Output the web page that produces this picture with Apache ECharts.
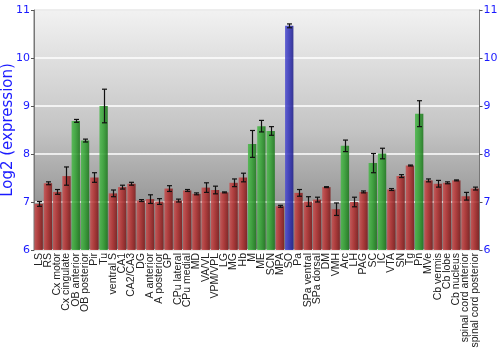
<!DOCTYPE html>
<html><head><meta charset="utf-8">
<script src="https://cdn.jsdelivr.net/npm/echarts@6/dist/echarts.min.js"></script>
<style>html,body{margin:0;padding:0;background:#fff}#c{width:500px;height:350px}</style>
</head><body><div id="c"></div>
<script>
var categories = ["LS","RS","Cx motor","Cx cingulate","OB anterior","OB posterior","Pir","Tu","ventral S","CA1","CA2/CA3","DG","A anterior","A posterior","GP","CPu lateral","CPu medial","MD","VA/VL","VPM/VPL","LG","MG","Hb","M","ME","SCN","MPA","SO","Pa","SPa ventral","SPa dorsal","DM","VMH","Arc","LH","PAG","SC","IC","VTA","SN","Tg","Pn","MVe","Cb vermis","Cb lobe","Cb nucleus","spinal cord anterior","spinal cord posterior"];
var values = [6.96,7.39,7.21,7.54,8.69,8.28,7.51,9.0,7.18,7.31,7.38,7.03,7.06,7.01,7.28,7.03,7.24,7.17,7.30,7.25,7.20,7.40,7.51,8.21,8.58,8.48,6.91,10.67,7.19,7.01,7.05,7.31,6.85,8.17,7.0,7.21,7.81,8.01,7.26,7.54,7.76,8.84,7.45,7.38,7.40,7.45,7.12,7.28];
var errors = [0.05,0.03,0.05,0.19,0.03,0.03,0.1,0.35,0.07,0.04,0.03,0.02,0.09,0.06,0.06,0.03,0.02,0.02,0.1,0.08,0.01,0.08,0.09,0.28,0.12,0.09,0.02,0.04,0.07,0.1,0.05,0.01,0.13,0.12,0.1,0.02,0.2,0.11,0.02,0.03,0.01,0.27,0.03,0.07,0.02,0.01,0.08,0.03];
var groups = ["r","r","r","r","g","g","r","g","r","r","r","r","r","r","r","r","r","r","r","r","r","r","r","g","g","g","r","b","r","r","r","r","r","g","r","r","g","g","r","r","r","g","r","r","r","r","r","r"];
var yTicks = [6,7,8,9,10,11];

function grad(a,b,c){return new echarts.graphic.LinearGradient(0,0,1,0,[{offset:0,color:a},{offset:0.45,color:b},{offset:1,color:c}]);}
var fills = {
  r: grad('#c75252','#b33333','#7e1c1c'),
  g: grad('#4cb84c','#36a336','#1d771d'),
  b: grad('#5050d0','#3636bb','#1f1f8a')
};
var chart = echarts.init(document.getElementById('c'));
var barData = values.map(function(v,i){return {value:v,itemStyle:{color:fills[groups[i]],opacity:0.88}};});
var errData = values.map(function(v,i){return [i,v-errors[i],v+errors[i]];});
chart.setOption({
  animation:false,
  grid:{left:34,right:20.5,top:10,bottom:100,containLabel:false,outerBoundsMode:'none',show:true,borderColor:'#777',borderWidth:1,
    backgroundColor:new echarts.graphic.LinearGradient(0,0,0,1,[{offset:0,color:'#f2f2f2'},{offset:0.5,color:'#c4c4c4'},{offset:1,color:'#7a7a7a'}])},
  xAxis:{type:'category',data:categories,
    axisLine:{show:false},axisTick:{show:false},
    axisLabel:{interval:0,rotate:90,fontFamily:'Liberation Sans',fontSize:10.5,color:'#222',margin:3}},
  yAxis:[{type:'value',min:yTicks[0],max:yTicks[yTicks.length-1],interval:1,name:'Log2 (expression)',nameLocation:'middle',nameGap:18,nameMoveOverlap:false,
    nameTextStyle:{color:'#1a1aff',fontFamily:'DejaVu Sans',fontSize:15},
    axisLine:{show:true,lineStyle:{color:'#777'}},axisTick:{show:true,length:3,lineStyle:{color:'#555'}},
    axisLabel:{color:'#1a1aff',fontFamily:'DejaVu Sans',fontSize:11,margin:4},
    splitLine:{lineStyle:{color:'#ffffff',width:1.5}}},
   {type:'value',position:'right',min:yTicks[0],max:yTicks[yTicks.length-1],interval:1,
    axisLine:{show:true,lineStyle:{color:'#777'}},axisTick:{show:true,length:3,lineStyle:{color:'#555'}},
    axisLabel:{color:'#1a1aff',fontFamily:'DejaVu Sans',fontSize:11,margin:4},splitLine:{show:false}}],
  series:[
    {type:'bar',data:barData,barCategoryGap:'10%',z:2},
    {type:'custom',z:3,data:errData,renderItem:function(params,api){
      var x=api.value(0),lo=api.coord([x,api.value(1)]),hi=api.coord([x,api.value(2)]);
      var cx=Math.round(lo[0])+0.5,w=2.5;
      var st={stroke:'#111',lineWidth:1.2};
      return {type:'group',children:[
        {type:'line',shape:{x1:cx,y1:lo[1],x2:cx,y2:hi[1]},style:st},
        {type:'line',shape:{x1:cx-w,y1:lo[1],x2:cx+w,y2:lo[1]},style:st},
        {type:'line',shape:{x1:cx-w,y1:hi[1],x2:cx+w,y2:hi[1]},style:st}]};
    }}
  ]
});
</script></body></html>
